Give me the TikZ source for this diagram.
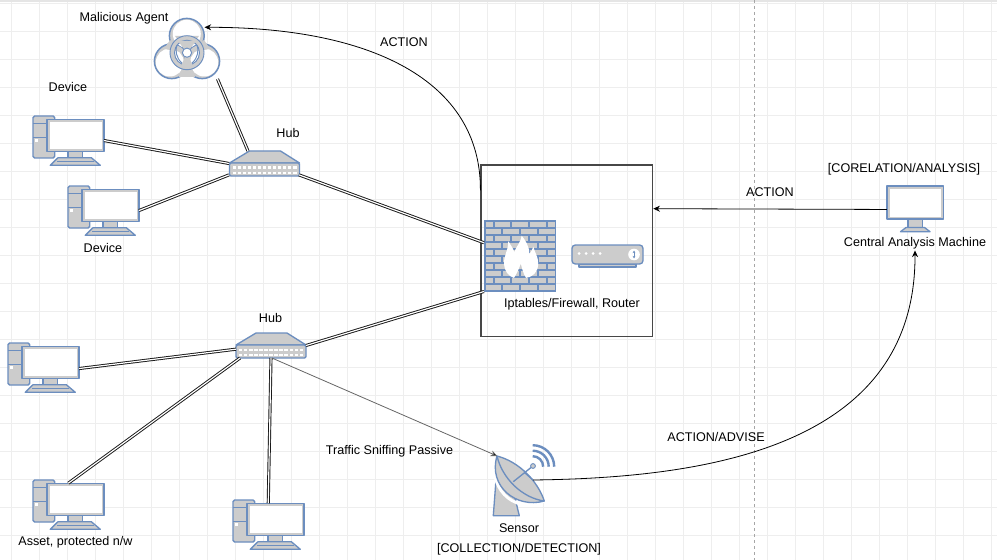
\documentclass[tikz,border=0pt]{standalone}
\usepackage{fontspec}
\setmainfont{Liberation Sans}
\usetikzlibrary{arrows.meta}
\definecolor{icoblue}{HTML}{6C8EBF}
\definecolor{icogray}{HTML}{CCCCCC}
\definecolor{gridc}{HTML}{EEEEEE}
\tikzset{
  lbl/.style={inner sep=1pt,font=\fontsize{9.45}{11}\selectfont,text=black},
  holder/.style={inner sep=0pt,outer sep=0pt,minimum width={#1*0.75pt}},
  dbl/.style={draw=black!90,line width=0.7pt,double=white,double distance=0.9pt},
  arr/.style={draw=black,line width=0.6pt,-{Stealth[length=5pt,width=4.5pt]}},
  ico/.style={draw=icoblue,fill=icogray,line width=1pt,line join=round},
  computer/.pic={
    \path[ico,rounded corners=1.2pt] (0,0) rectangle (21.7,42);
    \draw[icoblue,line width=1pt] (0,7.3) -- (14,7.3) (0,21.3) -- (14,21.3);
    \fill[white] (2.3,23) rectangle (5,25.7);
    \path[ico] (35,41.7) -- (35,34) -- (49.3,34) -- (49.3,41.7) -- cycle;
    \path[ico] (25,41.7) -- (58.3,41.7) -- (67.3,49.3) -- (17.3,49.3) -- cycle;
    \draw[icoblue,line width=0.5pt] (24,45.5) -- (61,45.5);
    \path[ico] (14,3.3) rectangle (71,35.7);
    \fill[white] (16.5,5.8) rectangle (68.5,33.2);
  },
  hubicon/.pic={
    \path[ico] (0,12) -- (20,0) -- (51,0) -- (70,12) -- cycle;
    \path[ico,rounded corners=1pt] (0,12) rectangle (70,25);
    \foreach \r in {15.5,20.5}{
      \foreach \i in {0,...,12}{
        \fill[white] ({3+\i*5.05},\r) rectangle ({6.4+\i*5.05},{\r+2});
      }
    }
  }
}
\begin{document}
\begin{tikzpicture}[x=0.75pt,y=-0.75pt]
\useasboundingbox (0,0) rectangle (997,560);
\fill[white] (0,0) rectangle (997,560);
% grid
\foreach \k in {0,...,35}{
  \draw[gridc,line width=0.6pt] ({11.7+28*\k},0) -- ({11.7+28*\k},560);
}
\foreach \k in {0,...,20}{
  \draw[gridc,line width=0.6pt] (0,{3.7+28*\k}) -- (997,{3.7+28*\k});
}
\fill[black!10] (0,0) rectangle (997,2);
\draw[black!35,line width=0.6pt,dash pattern=on 2.5pt off 2pt] (754,0) -- (754,560);

% firewall box
\node[draw=black!72,line width=0.85pt,inner sep=0pt,minimum width=128.8pt,minimum height=128.8pt] (fwbox) at (566.85,250.85) {};

% holder nodes
\node[holder=66,minimum height=45.75pt] (bio) at (187,48.5) {};
\node[holder=57,minimum height=24.4pt] (dev1) at (75.5,135.5) {};
\node[holder=57,minimum height=24.4pt] (dev2) at (110.5,205.5) {};
\node[holder=57,minimum height=24.4pt] (dev3) at (50.5,362.5) {};
\node[holder=57,minimum height=24.4pt] (dev4) at (75.5,499.5) {};
\node[holder=57,minimum height=24.4pt] (dev5) at (275.5,519.5) {};
\node[holder=70,minimum height=18.75pt] (hub1) at (264,163.5) {};
\node[holder=70,minimum height=18.75pt] (hub2) at (271,345.5) {};
\node[holder=71.5,minimum height=53.6pt] (fw) at (519.75,255.75) {};
\node[holder=71,minimum height=16.5pt] (router) at (607.5,256) {};
\node[holder=52,minimum height=45pt] (sensor) at (519,486) {};
\node[holder=57,minimum height=24.4pt] (cam) at (915.35,202.35) {};
\coordinate (bioin) at (204.5,27.3);
\coordinate (sensorout) at (533,480);

% computers
\pic at (33,116) {computer};
\pic at (68,186) {computer};
\pic at (8,343) {computer};
\pic at (33,480) {computer};
\pic at (233,500) {computer};

% hubs
\pic at (229.5,151) {hubicon};
\pic at (236,333) {hubicon};

% biohazard
\foreach \c in {(186.8,35.8),(171.8,61.2),(202.2,61.2)}{
  \path[ico,line width=1.1pt] \c circle (17.4);
}
\foreach \c in {(186.8,33.8),(169.8,62.5),(204.2,62.5)}{
  \fill[white] \c circle (14);
}
\fill[icogray] (187,52.7) -- (175,36) -- (199,36) -- cycle;
\fill[icogray] (187,52.7) -- (179,77) -- (195,77) -- cycle;
\fill[icogray] (187,52.7) -- (170,40) -- (164,49) -- cycle;
\fill[icogray] (187,52.7) -- (204,40) -- (210,49) -- cycle;
\path[fill=icogray,draw=icoblue,line width=0.7pt,even odd rule] (187,52.7) circle (17) (187,52.7) circle (12.5);
\fill[icogray] (187,52.7) -- (178,41) -- (196,41) -- cycle;
\fill[icogray] (187,52.7) -- (181,66) -- (193,66) -- cycle;
\draw[icoblue,line width=0.7pt] (177,45) .. controls (175,50) and (176,58) .. (182,63)
  (197,45) .. controls (199,50) and (198,58) .. (192,63);
\path[fill=white,draw=icoblue,line width=0.7pt] (187,52.7) circle (4.6);

% firewall
\fill[icoblue] (484,220) rectangle (555.5,291.5);
\foreach \i in {0,2,4,6,8}{
  \foreach \a/\b in {485.5/492.5,494.5/509.5,512/528,530/546,548/555}{
    \fill[icogray] (\a,{221.5+7*\i}) rectangle (\b,{226.5+7*\i});
  }
}
\foreach \i in {1,3,5,7,9}{
  \foreach \a/\b in {485.5/500.5,502.5/518.5,520.5/536.5,538.5/555}{
    \fill[icogray] (\a,{221.5+7*\i}) rectangle (\b,{226.5+7*\i});
  }
}
\fill[white] (521.7,235.7) .. controls (521,242) and (516,247) .. (514.3,252)
  .. controls (513,248) and (510.5,245) .. (508.3,241)
  .. controls (508.5,250) and (503.5,256) .. (504,264)
  .. controls (504.5,271) and (508,276) .. (514,277.9)
  .. controls (517,273) and (519.5,268) .. (520.7,263.5)
  .. controls (522,268) and (523,273) .. (526,277.9)
  .. controls (533,277) and (538,272) .. (538.2,264)
  .. controls (538.5,257) and (534.5,252) .. (533.3,246.7)
  .. controls (532.5,249.5) and (531,252) .. (529.3,254)
  .. controls (529.5,246) and (525,240) .. (521.7,235.7) -- cycle;

% router
\path[ico] (579,264) rectangle (636,267);
\path[ico,rounded corners=2.5pt] (572,245) rectangle (643,264);
\foreach \x in {579,586,593,600}{\fill[white] (\x,253.5) circle (1.5);}
\fill[white] (634,254.5) circle (5.8);
\draw[icoblue,line width=0.6pt,{Stealth[length=2pt,width=2pt]}-{Stealth[length=2pt,width=2pt]}] (634,250.5) -- (634,258.5);

% sensor
\path[ico] (496,480) -- (493.3,515.7) -- (519.3,515.7) -- (515,498) -- cycle;
\draw[white,line width=2.2pt] (497,456) .. controls (486,484) and (512,516) .. (544.3,501);
\path[ico] (497,456) .. controls (520,462) and (538,482) .. (544.3,501)
  .. controls (516,509) and (488,486) .. (497,456) -- cycle;
\draw[icoblue,line width=1pt] (497,456) .. controls (502,478) and (522,498) .. (544.3,501);
\draw[icoblue,line width=1pt] (513.3,481.7) -- (531,467.5) (524.5,472.5) -- (533,480);
\path[fill=icogray,draw=icoblue,line width=0.7pt] (533,466) circle (2.4);
\foreach \r in {10.5,16,21.5}{
  \draw[icoblue,line width=1.8pt] (532.7,{466.7-\r}) arc (-90:0:\r);
}

% central monitor
\path[ico] (908,219) rectangle (922.5,229);
\path[ico] (906,227.5) -- (924.5,227.5) -- (930,231.7) -- (900.5,231.7) -- cycle;
\path[ico] (887,186) rectangle (943.7,219);
\fill[white] (889.5,188.5) rectangle (941.2,216.5);

% connectors
\draw[dbl] (bio.-45.5) -- (hub1.142);
\draw[dbl] (dev1.-10) -- (hub1.west);
\draw[dbl] (dev2.-10) -- (hub1.198);
\draw[dbl] (hub1.-18) -- (fw.160);
\draw[dbl] (hub2.east) -- (fw.south west);
\draw[dbl] (dev3.-12) -- (hub2.186);
\draw[dbl] (dev4.114) -- (hub2.202);
\draw[dbl] (dev5.114) -- (hub2.south);
\draw[draw=black!60,line width=0.6pt,-{Stealth[length=5pt,width=4.5pt,fill=black]}] (hub2.-86) -- (sensor.126);
\draw[arr] (fwbox.145) .. controls (481,80) and (370,27) .. (bioin);
\draw[arr] (cam.194) -- (fwbox.26);

% labels
\node[lbl] (l1) at (124,18) {Malicious Agent};
\node[lbl] (l2) at (68,87) {Device};
\node[lbl] (l3) at (288,133) {Hub};
\node[lbl] (l4) at (103,248) {Device};
\node[lbl] (l5) at (270.5,318) {Hub};
\node[lbl] (l6) at (404,42) {ACTION};
\node[lbl] (l7) at (770,192) {ACTION};
\node[lbl] (l8) at (904,169) {[CORELATION/ANALYSIS]};
\node[lbl] (camlabel) at (915,243) {Central Analysis Machine};
\node[lbl] (l10) at (572,304) {Iptables/Firewall, Router};
\node[lbl] (l11) at (389.5,451) {Traffic Sniffing Passive};
\node[lbl] (l12) at (716,437) {ACTION/ADVISE};
\node[lbl] (l13) at (519,528) {Sensor};
\node[lbl] (l14) at (519,549) {[COLLECTION/DETECTION]};
\node[lbl] (l15) at (75.5,542) {Asset, protected n/w};

\draw[arr] (sensorout) .. controls (700,478) and (916,450) .. (camlabel.south);
\end{tikzpicture}
\end{document}
